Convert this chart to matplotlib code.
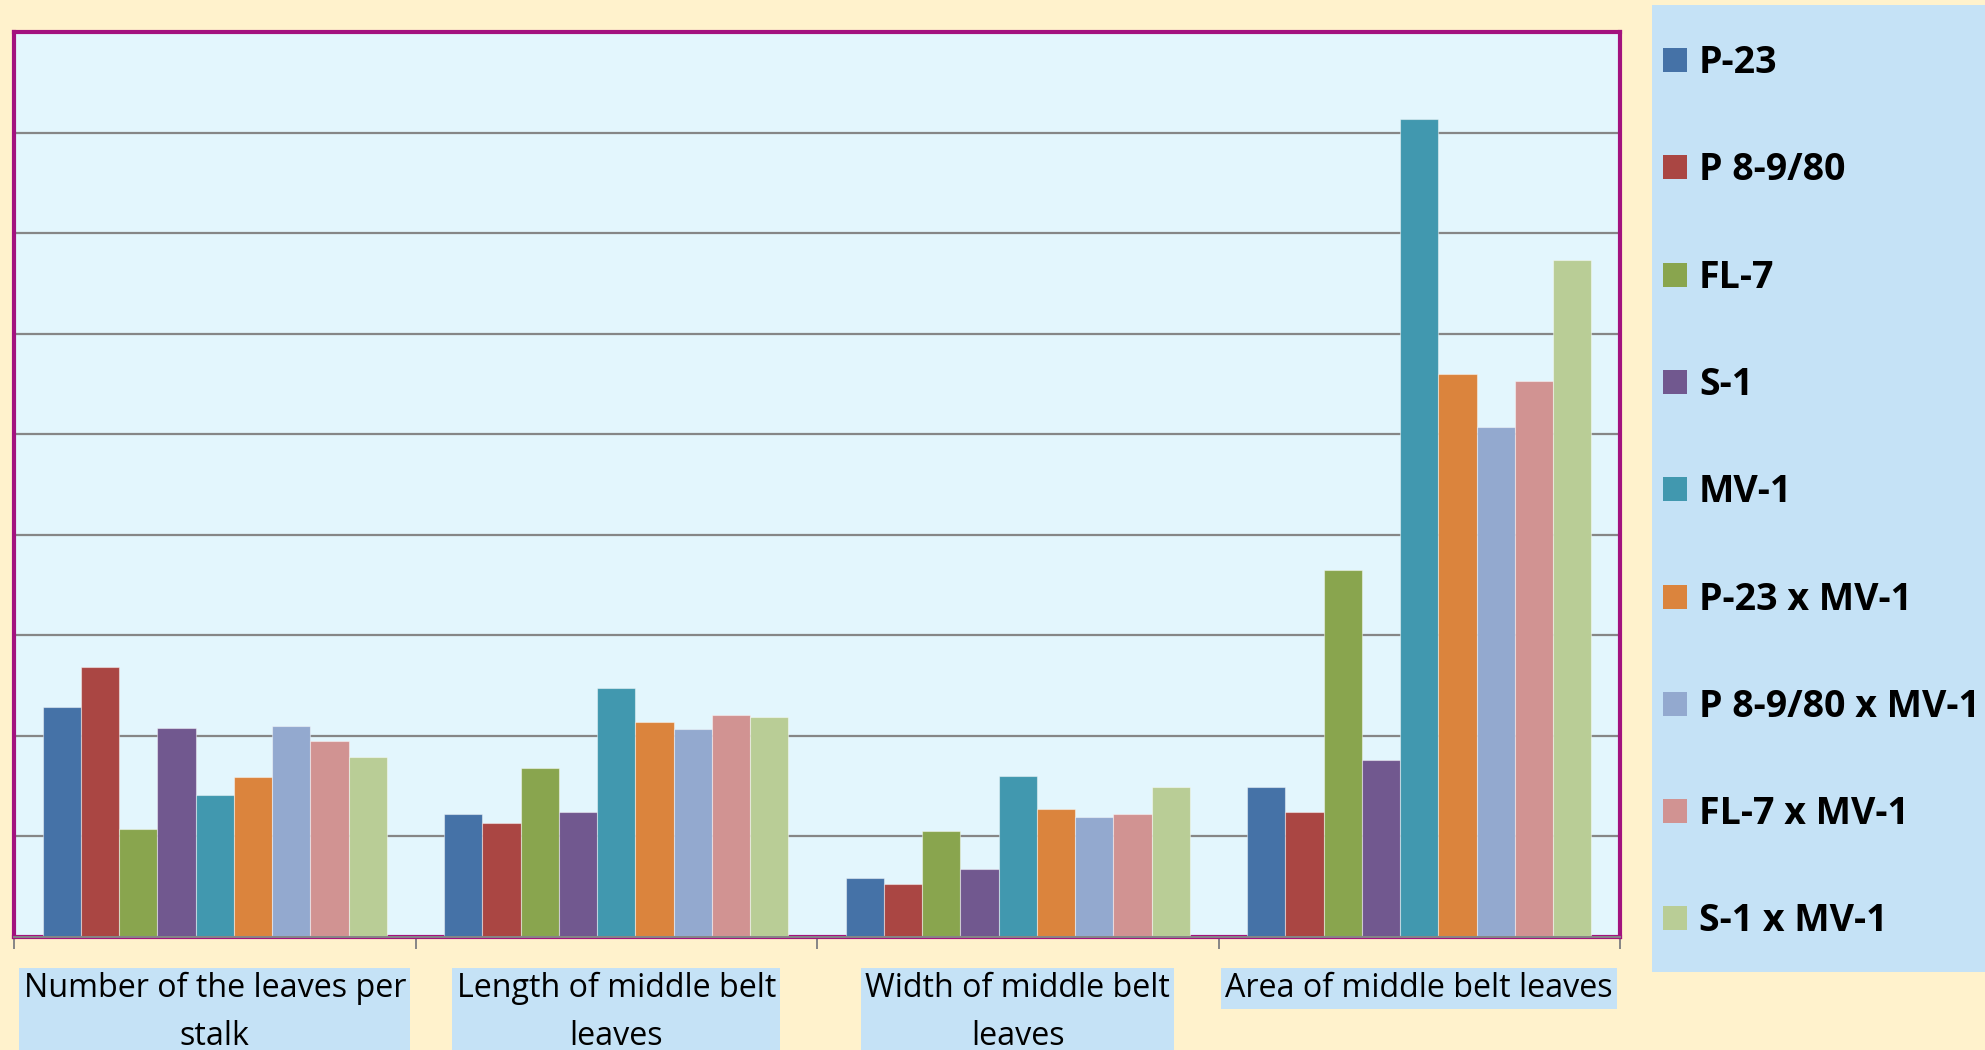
import matplotlib
matplotlib.use("Agg")
import matplotlib.pyplot as plt
import numpy as np
from matplotlib.patches import Rectangle
from matplotlib.transforms import blended_transform_factory

# ---------------- data ----------------
categories = ["Number of the leaves per\nstalk",
              "Length of middle belt\nleaves",
              "Width of middle belt\nleaves",
              "Area of middle belt leaves"]
series = ["P-23", "P 8-9/80", "FL-7", "S-1", "MV-1",
          "P-23 x MV-1", "P 8-9/80 x MV-1", "FL-7 x MV-1", "S-1 x MV-1"]

p23 = [2.29, 1.22, 0.59, 1.49]
p89 = [2.69, 1.13, 0.53, 1.24]
fl7 = [1.07, 1.68, 1.05, 3.65]
s1 = [2.08, 1.24, 0.68, 1.76]
mv1 = [1.41, 2.48, 1.60, 8.13]
p23_mv1 = [1.59, 2.14, 1.27, 5.60]
p89_mv1 = [2.10, 2.07, 1.19, 5.07]
fl7_mv1 = [1.95, 2.21, 1.22, 5.53]
s1_mv1 = [1.79, 2.19, 1.49, 6.73]
values = [p23, p89, fl7, s1, mv1, p23_mv1, p89_mv1, fl7_mv1, s1_mv1]

colors = ["#4572A7", "#AA4643", "#89A54E", "#71588F", "#4198AF",
          "#DB843D", "#93A9CF", "#D19392", "#B9CD96"]

# ---------------- style ----------------
CREAM = "#FFF2CC"
PLOT_BG = "#E3F6FD"
BORDER = "#A3127E"
LEG_BG = "#C5E2F6"
GRID = "#868686"
W, H = 1985, 1050
FONT = ["Open Sans", "DejaVu Sans"]

fig = plt.figure(figsize=(W / 100, H / 100), dpi=100)
fig.patch.set_facecolor(CREAM)

ax_l, ax_r, ax_t, ax_b = 14, 1620, 32, 937
ax = fig.add_axes([ax_l / W, (H - ax_b) / H, (ax_r - ax_l) / W, (ax_b - ax_t) / H])
ax.set_facecolor(PLOT_BG)

n = len(series)
bw = 1.0 / (n + 1.5)
x = np.arange(len(categories))
for i, (vals, c) in enumerate(zip(values, colors)):
    ax.bar(x + (i - (n - 1) / 2) * bw, vals, width=bw, color=c,
           edgecolor=(1, 1, 1, 0.45), linewidth=0.8, zorder=3, label=series[i])

ax.set_xlim(-0.5, len(categories) - 0.5)
ax.set_ylim(0, 9)
ax.set_yticks(np.arange(0, 10, 1))
ax.yaxis.grid(True, color=GRID, linewidth=1.6, zorder=1)
ax.set_axisbelow(True)
ax.tick_params(axis="y", left=False, labelleft=False)
ax.set_xticks(np.arange(-0.5, len(categories), 1.0))
ax.tick_params(axis="x", direction="out", length=8.5, width=1.4, color=GRID,
               labelbottom=False)
for s in ax.spines.values():
    s.set_color(BORDER)
    s.set_linewidth(3.0)
ax.axhline(0, color=GRID, linewidth=1.4, zorder=6, clip_on=False)

# category labels in light-blue boxes
trans = blended_transform_factory(ax.transData, fig.transFigure)
for xi, lab in zip(x, categories):
    ax.text(xi, 1 - 972 / H, lab, transform=trans, ha="center", va="top",
            fontsize=23.2, family=FONT, linespacing=1.6,
            multialignment="center", color="black",
            bbox=dict(boxstyle="square,pad=0.13", facecolor=LEG_BG, edgecolor="none"),
            clip_on=False)

# legend panel
leg_x0, leg_y0, leg_y1 = 1652, 5, 972
fig.patches.append(Rectangle((leg_x0 / W, 1 - leg_y1 / H), (W - leg_x0) / W,
                             (leg_y1 - leg_y0) / H, transform=fig.transFigure,
                             facecolor=LEG_BG, edgecolor="none", zorder=0))
step = 107.3
for i, (lab, c) in enumerate(zip(series, colors)):
    top = 48 + step * i
    fig.patches.append(Rectangle((1663 / W, 1 - (top + 24) / H), 24 / W, 24 / H,
                                 transform=fig.transFigure, facecolor=c,
                                 edgecolor="none", zorder=2))
    fig.text(1699 / W, 1 - (top + 25) / H, lab, ha="left", va="baseline",
             fontsize=27, fontweight="bold", family=FONT,
             color="black", zorder=3)

fig.savefig("out.png", dpi=100, facecolor=fig.get_facecolor())
